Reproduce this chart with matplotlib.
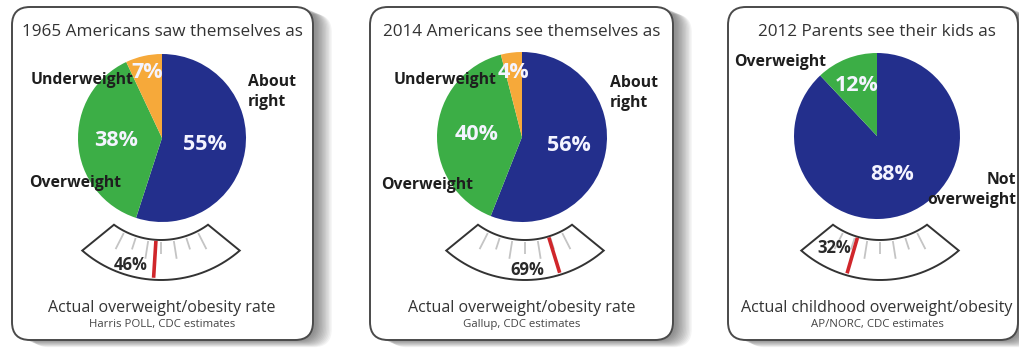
import numpy as np
import matplotlib
matplotlib.use("Agg")
import matplotlib.pyplot as plt
from matplotlib.patches import FancyBboxPatch, Polygon

# ---------------- data ----------------
titles = ["1965 Americans saw themselves as",
          "2014 Americans see themselves as",
          "2012 Parents see their kids as"]
pie_values = [[55, 38, 7], [56, 40, 4], [88, 12]]
pie_colors = [["#232f8c", "#3cae46", "#f6a93a"],
              ["#232f8c", "#3cae46", "#f6a93a"],
              ["#232f8c", "#3cae46"]]
actual_rates = [46, 69, 32]
footers = ["Actual overweight/obesity rate",
           "Actual overweight/obesity rate",
           "Actual childhood overweight/obesity"]
sources = ["Harris POLL, CDC estimates",
           "Gallup, CDC estimates",
           "AP/NORC, CDC estimates"]
gauge_ticks = [20, 30, 40, 50, 60, 70, 80]

# ---------------- layout (pixels, y measured from top) ----------------
W, H = 1020, 350
boxes = [(12, 7, 313, 340), (370, 7, 673, 340), (728, 7, 1018, 340)]
pie_centers = [(162, 138), (522, 137), (877, 136)]
pie_radius = [84, 85, 83]
pct_dist = [[0.52, 0.55, 0.8], [0.56, 0.53, 0.77], [0.5, 0.66]]
gauge_centers = [(161, 160), (525, 160), (880, 160)]
r_in, r_out = 80, 120
a_in, a_out = 36, 41
gauge_label_pos = [(131, 265), (527, 270), (834, 248)]
cat_labels = [
    [("Underweight", 82, 80, "center"), ("About\nright", 248, 92, "left"),
     ("Overweight", 75, 183, "center")],
    [("Underweight", 445, 80, "center"), ("About\nright", 610, 93, "left"),
     ("Overweight", 427, 185, "center")],
    [("Overweight", 780, 62, "center"), ("Not\noverweight", 1016, 190, "right")],
]

FONT = "Open Sans"

def Y(y):
    return H - y

fig = plt.figure(figsize=(W / 100, H / 100), dpi=100)
ax = fig.add_axes([0, 0, 1, 1])

# ---------------- panels with shadow ----------------
for (x0, y0, x1, y1) in boxes:
    for k in range(1, 13):
        sh = FancyBboxPatch((x0 + 2 + k * 1.4, Y(y1) - k * 0.6),
                            x1 - x0, y1 - y0,
                            boxstyle="round,pad=0,rounding_size=18",
                            fc="#000000", ec="none", alpha=0.045, zorder=1)
        ax.add_patch(sh)
    box = FancyBboxPatch((x0, Y(y1)), x1 - x0, y1 - y0,
                         boxstyle="round,pad=0,rounding_size=18",
                         fc="white", ec="#4a4a4a", lw=1.4, zorder=2)
    ax.add_patch(box)

# ---------------- pies ----------------
for i in range(3):
    cx, cy = pie_centers[i]
    r = pie_radius[i]
    wedges, _ = ax.pie(pie_values[i], colors=pie_colors[i], startangle=90,
                       counterclock=False, center=(cx, Y(cy)), radius=r,
                       frame=True, wedgeprops=dict(lw=0, zorder=3))
    for w in wedges:
        w.set_zorder(3)
    for j, w in enumerate(wedges):
        mid = np.deg2rad((w.theta1 + w.theta2) / 2)
        d = pct_dist[i][j] * r
        ax.text(cx + d * np.cos(mid), Y(cy) + d * np.sin(mid),
                f"{pie_values[i][j]}%", color="#f4f4ff", fontsize=15.5,
                fontweight="bold", family=FONT, ha="center", va="center",
                zorder=5)

# ---------------- category labels ----------------
for i in range(3):
    for (t, x, y, ha) in cat_labels[i]:
        ax.text(x, Y(y), t, fontsize=11.3, fontweight="bold", family=FONT,
                color="#1e1e1e", ha=ha, va="center", zorder=6,
                linespacing=1.3, multialignment=ha)

# ---------------- gauges ----------------
def gpt(gx, gy, r, phi_deg):
    p = np.deg2rad(phi_deg)
    return (gx + r * np.sin(p), Y(gy + r * np.cos(p)))

for i in range(3):
    gx, gy = gauge_centers[i]
    inner = [gpt(gx, gy, r_in, a) for a in np.linspace(-a_in, a_in, 40)]
    outer = [gpt(gx, gy, r_out, a) for a in np.linspace(a_out, -a_out, 40)]
    ax.add_patch(Polygon(inner + outer, closed=True, fc="white",
                         ec="#333333", lw=1.4, zorder=3))
    for k, t in enumerate(gauge_ticks):
        phi = (t - 50) * 0.9
        ln = 14 if k % 2 else 20
        p0 = gpt(gx, gy, r_in + 2, phi)
        p1 = gpt(gx, gy, r_in + ln, phi)
        ax.plot([p0[0], p1[0]], [p0[1], p1[1]], color="#c4c4c4", lw=1.3,
                zorder=4, solid_capstyle="butt")
    phi = (actual_rates[i] - 50) * 0.9
    p0 = gpt(gx, gy, r_in + 1, phi)
    p1 = gpt(gx, gy, r_out - 2, phi)
    ax.plot([p0[0], p1[0]], [p0[1], p1[1]], color="#d0262b", lw=2.6,
            zorder=5, solid_capstyle="butt")
    lx, ly = gauge_label_pos[i]
    ax.text(lx, Y(ly), f"{actual_rates[i]}%", fontsize=12,
            fontweight="bold", family=FONT, color="#2a2a2a",
            ha="center", va="center", zorder=6)

# ---------------- titles & footers ----------------
for i in range(3):
    x0, y0, x1, y1 = boxes[i]
    cx = pie_centers[i][0]
    ax.text(cx, Y(32), titles[i], fontsize=12.3, family=FONT, color="#333333",
            ha="center", va="center", zorder=6)
    ax.text(cx, Y(308), footers[i], fontsize=11.5, family=FONT,
            color="#333333", ha="center", va="center", zorder=6)
    ax.text(cx, Y(325), sources[i], fontsize=8.2, family=FONT,
            color="#444444", ha="center", va="center", zorder=6)

ax.set_xlim(0, W)
ax.set_ylim(0, H)
ax.set_aspect("auto")
ax.axis("off")
fig.savefig("out.png", dpi=100, facecolor="white")
